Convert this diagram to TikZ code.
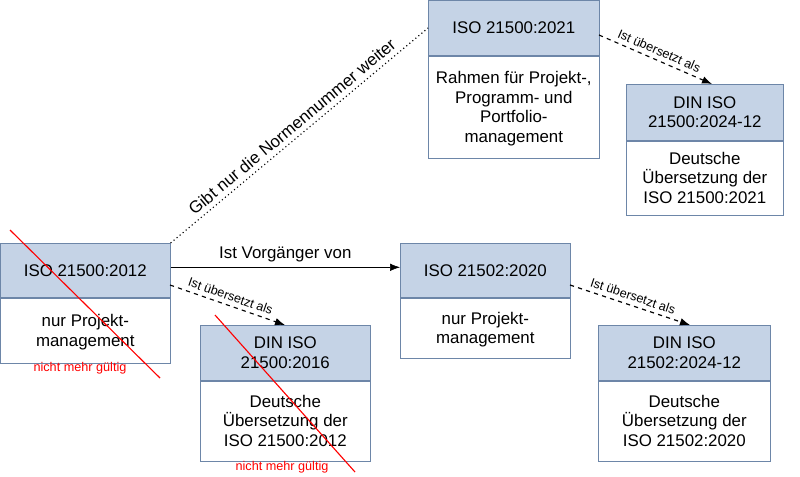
\documentclass[tikz,border=0pt]{standalone}
\usepackage{fontspec}
\setmainfont{Liberation Sans}
\usetikzlibrary{positioning,arrows.meta}
\definecolor{headblue}{HTML}{C5D3E6}
\definecolor{edgeblue}{HTML}{6D86A8}
\tikzset{
  head/.style={draw=edgeblue,fill=headblue,anchor=north west,minimum height=1.375cm,inner sep=2pt,font=\large,align=center},
  body/.style={draw=edgeblue,fill=white,anchor=north,inner sep=2pt,font=\large,align=center,text depth=0pt},
  tr/.style={-{Latex[length=2.5mm]},dashed,thick},
  small/.style={font=\small,sloped,above,pos=0.5,inner sep=3pt}
}
\begin{document}
\begin{tikzpicture}[x=0.025cm,y=-0.025cm]
\useasboundingbox (0,0) rectangle (800,476);
% Kopf und Text jeder Norm
\node[head,minimum width=4.275cm] (iso21) at (428,0) {ISO 21500:2021};
\node[body,minimum width=4.275cm,minimum height=2.55cm,below=0pt of iso21] (iso21t) {Rahmen f\"ur Projekt-,\\Programm- und\\Portfolio-\\management};
\node[head,minimum width=3.925cm,minimum height=1.4cm] (din24a) at (626,84) {DIN ISO\\21500:2024-12};
\node[body,minimum width=3.925cm,minimum height=1.85cm,below=0pt of din24a] (din24at) {Deutsche\\\"Ubersetzung der\\ISO 21500:2021};
\node[head,minimum width=4.25cm,minimum height=1.35cm] (iso12) at (0,243) {ISO 21500:2012};
\node[body,minimum width=4.25cm,minimum height=1.625cm,below=0pt of iso12] (iso12t) {nur Projekt-\\management};
\node[head,minimum width=4.25cm,minimum height=1.35cm] (iso20) at (400,243) {ISO 21502:2020};
\node[body,minimum width=4.25cm,minimum height=1.5cm,below=0pt of iso20] (iso20t) {nur Projekt-\\management};
\node[head,minimum width=4.25cm,minimum height=1.375cm] (din16) at (200,325) {DIN ISO\\21500:2016};
\node[body,minimum width=4.25cm,minimum height=2cm,below=0pt of din16] (din16t) {Deutsche\\\"Ubersetzung der\\ISO 21500:2012};
\node[head,minimum width=4.3cm,minimum height=1.375cm] (din24b) at (598,325) {DIN ISO\\21502:2024-12};
\node[body,minimum width=4.3cm,minimum height=2cm,below=0pt of din24b] (din24bt) {Deutsche\\\"Ubersetzung der\\ISO 21502:2020};
% ungueltig
\node[red,font=\small] (old12) at (80,368) {nicht mehr g\"ultig};
\node[red,font=\small] (old16) at (282,467) {nicht mehr g\"ultig};
\draw[red,thick] (10,230) -- (160,378);
\draw[red,thick] (215,315) -- (355,472);
% Beziehungen
\draw[dotted,thick] (iso12.north east) to node[sloped,above,font=\large] {Gibt nur die Normennummer weiter} (iso21.west |- 0,28);
\draw[-{Latex[length=2.5mm]}] (iso12.east) ++(0,-3) coordinate (a) -- (a -| iso20.west) node[midway,above,font=\large] {Ist Vorg\"anger von};
\draw[tr] (170,285) to node[small] {Ist \"ubersetzt als} (din16.north -| 285,0);
\draw[tr] (570,285) to node[small] {Ist \"ubersetzt als} (din24b.north -| 690,0);
\draw[tr] (599,35) to node[small] {Ist \"ubersetzt als} (din24a.north -| 712,0);
\end{tikzpicture}
\end{document}
